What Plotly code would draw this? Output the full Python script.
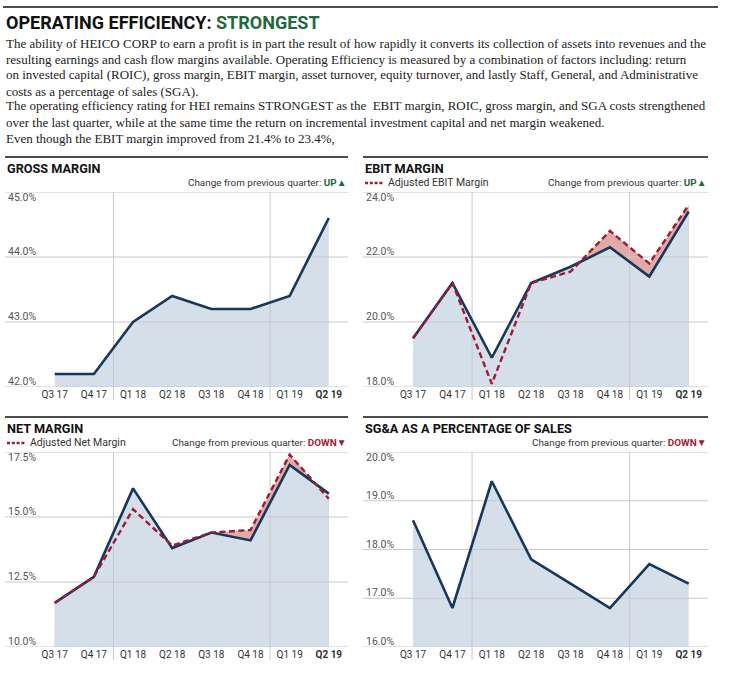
import plotly.graph_objects as go

# ---------------- data ----------------
quarters = ["Q3 17", "Q4 17", "Q1 18", "Q2 18", "Q3 18", "Q4 18", "Q1 19", "Q2 19"]
gross_margin = [42.2, 42.2, 43.0, 43.4, 43.2, 43.2, 43.4, 44.6]
ebit_margin = [19.5, 21.2, 18.9, 21.2, 21.7, 22.3, 21.4, 23.4]
ebit_adjusted = [19.5, 21.2, 18.1, 21.2, 21.55, 22.8, 21.8, 23.6]
net_margin = [11.7, 12.7, 16.1, 13.8, 14.4, 14.1, 17.0, 15.9]
net_adjusted = [11.7, 12.7, 15.3, 13.9, 14.4, 14.5, 17.4, 15.7]
sga_pct = [18.6, 16.8, 19.4, 17.8, 17.3, 16.8, 17.7, 17.3]

gross_ticks = [42.0, 43.0, 44.0, 45.0]
ebit_ticks = [18.0, 20.0, 22.0, 24.0]
net_ticks = [10.0, 12.5, 15.0, 17.5]
sga_ticks = [16.0, 17.0, 18.0, 19.0, 20.0]

title_main = "OPERATING EFFICIENCY: "
title_rating = "STRONGEST"
body_lines = [
    "The ability of HEICO CORP to earn a profit is in part the result of how rapidly it converts its collection of assets into revenues and the",
    "resulting earnings and cash flow margins available. Operating Efficiency is measured by a combination of factors including: return",
    "on invested capital (ROIC), gross margin, EBIT margin, asset turnover, equity turnover, and lastly Staff, General, and Administrative",
    "costs as a percentage of sales (SGA).",
    "The operating efficiency rating for HEI remains STRONGEST as the  EBIT margin, ROIC, gross margin, and SGA costs strengthened",
    "over the last quarter, while at the same time the return on incremental investment capital and net margin weakened.",
    "Even though the EBIT margin improved from 21.4% to 23.4%,",
]
body_y = [43, 59, 75, 91, 106, 122, 138]

# ---------------- style ----------------
W, H = 733, 681
NAVY = "#17375a"
RED = "#9e1b32"
GREEN = "#1e6a3c"
BLUE_FILL = "#d5dfea"
PINK_FILL = "#e2aaa6"
GRID = "#c9c9c9"
SANS = "Roboto"
SERIF = "Liberation Serif"
XR = [-1.27, 7.49]


def px(x):
    return x / W


def py(y):
    return 1 - y / H


panels = [
    dict(title="GROSS MARGIN", vals=gross_margin, adj=None, ticks=gross_ticks,
         legend=None, change="UP", x0=5, x1=348, top=192, bot=387, rule=157),
    dict(title="EBIT MARGIN", vals=ebit_margin, adj=ebit_adjusted, ticks=ebit_ticks,
         legend="Adjusted EBIT Margin", change="UP", x0=363, x1=708, top=192, bot=387, rule=157),
    dict(title="NET MARGIN", vals=net_margin, adj=net_adjusted, ticks=net_ticks,
         legend="Adjusted Net Margin", change="DOWN", x0=5, x1=348, top=452, bot=647, rule=417),
    dict(title="SG&A AS A PERCENTAGE OF SALES", vals=sga_pct, adj=None, ticks=sga_ticks,
         legend=None, change="DOWN", x0=363, x1=708, top=452, bot=647, rule=417),
]

fig = go.Figure()
shapes = []
annotations = []
idx = list(range(len(quarters)))
year_breaks = [i - 0.5 for i, q in enumerate(quarters) if q.startswith("Q1") and i > 0]
ticktext = [f"<b>{q}</b>" if i == len(quarters) - 1 else q for i, q in enumerate(quarters)]

for k, p in enumerate(panels, start=1):
    xa = "x" if k == 1 else f"x{k}"
    ya = "y" if k == 1 else f"y{k}"
    lo, hi = min(p["ticks"]), max(p["ticks"])

    # pink area under adjusted line
    if p["adj"] is not None:
        fig.add_trace(go.Scatter(x=idx, y=p["adj"], mode="lines", line=dict(width=0, color=PINK_FILL),
                                 fill="tozeroy", fillcolor=PINK_FILL, hoverinfo="skip",
                                 showlegend=False, xaxis=xa, yaxis=ya))
    # blue area under main line
    fig.add_trace(go.Scatter(x=idx, y=p["vals"], mode="lines", line=dict(width=0, color=BLUE_FILL),
                             fill="tozeroy", fillcolor=BLUE_FILL, hoverinfo="skip",
                             showlegend=False, xaxis=xa, yaxis=ya))
    # interior grid lines over the fills
    for v in p["ticks"]:
        if lo < v < hi:
            fig.add_trace(go.Scatter(x=XR, y=[v, v], mode="lines", line=dict(width=1, color=GRID),
                                     hoverinfo="skip", showlegend=False, xaxis=xa, yaxis=ya))
    for b in year_breaks:
        fig.add_trace(go.Scatter(x=[b, b], y=[lo, hi], mode="lines", line=dict(width=1, color=GRID),
                                 hoverinfo="skip", showlegend=False, xaxis=xa, yaxis=ya))
        shapes.append(dict(type="line", xref=xa, yref="paper", x0=b, x1=b,
                           y0=py(p["bot"]), y1=py(p["bot"] + 13), line=dict(color=GRID, width=1)))
    # main line
    fig.add_trace(go.Scatter(x=idx, y=p["vals"], mode="lines", line=dict(width=2.6, color=NAVY),
                             showlegend=False, xaxis=xa, yaxis=ya, name=p["title"]))
    if p["adj"] is not None:
        fig.add_trace(go.Scatter(x=idx, y=p["adj"], mode="lines",
                                 line=dict(width=2.4, color=RED, dash="6px,3.5px"),
                                 showlegend=False, xaxis=xa, yaxis=ya, name=p["legend"]))

    # edge gridlines
    for v in (lo, hi):
        shapes.append(dict(type="line", xref=f"{xa} domain", yref=ya, x0=0, x1=1, y0=v, y1=v,
                           line=dict(color=GRID, width=1), layer="above"))

    # axes
    fig.layout[f"xaxis{'' if k == 1 else k}"] = dict(
        domain=[px(p["x0"]), px(p["x1"])], range=XR, tickvals=idx, ticktext=ticktext,
        showgrid=False, zeroline=False, showline=False, ticks="", fixedrange=True,
        tickfont=dict(family=SANS, size=10, color="#333333"), anchor=ya)
    fig.layout[f"yaxis{'' if k == 1 else k}"] = dict(
        domain=[py(p["bot"]), py(p["top"])], range=[lo, hi], showgrid=False,
        showticklabels=False, zeroline=False, showline=False, fixedrange=True, anchor=xa)

    # y tick labels
    for v in p["ticks"]:
        top = v == hi
        annotations.append(dict(xref=f"{xa} domain", yref=ya, x=0.003, y=v, text=f"{v:.1f}%",
                                showarrow=False, xanchor="left", yanchor="top" if top else "bottom",
                                yshift=3 if top else -3,
                                font=dict(family=SANS, size=10.5, color="#555555")))

    # panel rule and texts
    shapes.append(dict(type="line", xref="paper", yref="paper", x0=px(p["x0"]), x1=px(p["x1"]),
                       y0=py(p["rule"]), y1=py(p["rule"]), line=dict(color="#111111", width=1.5)))
    annotations.append(dict(xref="paper", yref="paper", x=px(p["x0"]), y=py(p["rule"] + 11),
                            text=f"<b>{p['title']}</b>", showarrow=False, xanchor="left",
                            yanchor="middle", font=dict(family=SANS, size=12.7, color="#111111")))
    if p["change"] == "UP":
        ch = f"<b><span style='color:{GREEN}'>UP▲</span></b>"
    else:
        ch = f"<b><span style='color:{RED}'>DOWN▼</span></b>"
    annotations.append(dict(xref="paper", yref="paper", x=px(p["x1"]), y=py(p["rule"] + 26),
                            text="Change from previous quarter: " + ch, showarrow=False,
                            xanchor="right", yanchor="middle",
                            font=dict(family=SANS, size=9.9, color="#333333")))
    if p["legend"]:
        shapes.append(dict(type="line", xref="paper", yref="paper", x0=px(p["x0"] + 2),
                           x1=px(p["x0"] + 20), y0=py(p["rule"] + 26), y1=py(p["rule"] + 26),
                           line=dict(color=RED, width=2.5, dash="3px,1.8px")))
        annotations.append(dict(xref="paper", yref="paper", x=px(p["x0"] + 23), y=py(p["rule"] + 26),
                                text=p["legend"], showarrow=False, xanchor="left", yanchor="middle",
                                font=dict(family=SANS, size=10.5, color="#333333")))

# top rule, title and body text
shapes.append(dict(type="line", xref="paper", yref="paper", x0=px(3), x1=px(718), y0=py(7), y1=py(7),
                   line=dict(color="#111111", width=1.5)))
annotations.append(dict(xref="paper", yref="paper", x=px(4), y=py(22),
                        text=f"<b>{title_main}<span style='color:{GREEN}'>{title_rating}</span></b>",
                        showarrow=False, xanchor="left", yanchor="middle",
                        font=dict(family=SANS, size=18, color="#111111")))
for line, yy in zip(body_lines, body_y):
    annotations.append(dict(xref="paper", yref="paper", x=px(4), y=py(yy), text=line,
                            showarrow=False, xanchor="left", yanchor="middle",
                            font=dict(family=SERIF, size=13, color="#222222")))

fig.update_layout(width=W, height=H, margin=dict(l=0, r=0, t=0, b=0),
                  paper_bgcolor="white", plot_bgcolor="white",
                  shapes=shapes, annotations=annotations, showlegend=False)
fig.write_html("out.html", config={"displayModeBar": False},
               post_script="document.body.style.margin='0';document.body.style.overflow='hidden';")
